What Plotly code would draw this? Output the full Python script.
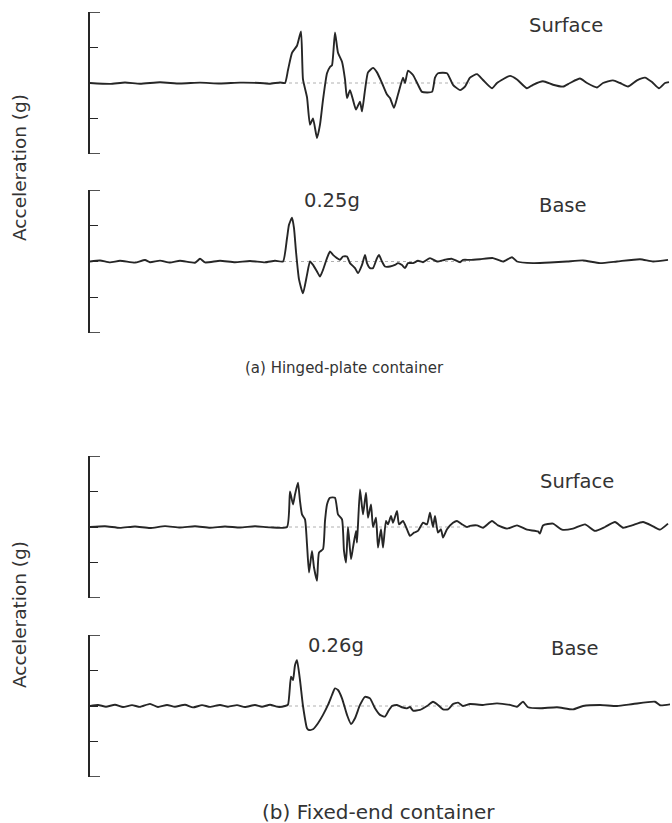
import plotly.graph_objects as go

# ---------------- data (time in s, acceleration in g) ----------------
t_hinged_surface = [0, 0.2, 0.35, 0.5, 0.7, 0.9, 1.1, 1.3, 1.5, 1.7, 1.8, 1.9, 1.95,
    1.98, 2.02, 2.07, 2.11, 2.13, 2.17, 2.20, 2.23, 2.27, 2.30, 2.33, 2.37, 2.40, 2.42,
    2.45, 2.48, 2.52, 2.55, 2.57, 2.60, 2.63, 2.66, 2.70, 2.72, 2.75, 2.78, 2.83, 2.87,
    2.92, 2.97, 3.00, 3.04, 3.08, 3.13, 3.15, 3.18, 3.23, 3.28, 3.32, 3.42, 3.45, 3.48,
    3.57, 3.63, 3.70, 3.75, 3.80, 3.87, 3.93, 4.02, 4.07, 4.20, 4.27, 4.37, 4.43, 4.53,
    4.63, 4.73, 4.80, 4.90, 4.97, 5.07, 5.13, 5.23, 5.30, 5.38, 5.47, 5.55, 5.62, 5.69,
    5.75, 5.79]
a_hinged_surface = [0, -0.005, 0.003, -0.004, 0.004, -0.003, 0.002, -0.003, 0.002, 0.0, -0.004, 0.003, 0.0,
    0.073, 0.17, 0.21, 0.29, 0.02, -0.08, -0.235, -0.20, -0.31, -0.235, -0.095, 0.055, 0.09, 0.10,
    0.285, 0.17, 0.12, 0.02, -0.085, -0.04, -0.095, -0.15, -0.105, -0.16, -0.04, 0.06, 0.085, 0.06,
    0.0, -0.065, -0.085, -0.14, -0.065, 0.03, 0.0, 0.07, 0.045, -0.01, -0.05, -0.05, 0.03, 0.055,
    0.055, -0.01, -0.04, -0.02, 0.03, 0.05, 0.017, -0.03, 0.0, 0.04, 0.02, -0.03, -0.01, 0.01,
    -0.01, -0.02, 0.0, 0.025, 0.0, -0.025, 0.0, 0.015, 0.0, -0.02, 0.015, 0.03, 0.005, -0.03,
    0.0, 0.005]

t_hinged_base = [0, 0.1, 0.2, 0.3, 0.45, 0.55, 0.6, 0.7, 0.8, 0.9, 1.05, 1.1, 1.15, 1.3, 1.45,
    1.6, 1.75, 1.85, 1.93, 1.97, 1.99, 2.02, 2.04, 2.06, 2.09, 2.13, 2.17, 2.20, 2.23, 2.27,
    2.30, 2.33, 2.37, 2.40, 2.43, 2.47, 2.50, 2.53, 2.57, 2.60, 2.65, 2.68, 2.72, 2.75, 2.77,
    2.80, 2.83, 2.87, 2.89, 2.92, 2.95, 3.00, 3.05, 3.08, 3.12, 3.15, 3.18, 3.23, 3.28, 3.33,
    3.40, 3.47, 3.55, 3.62, 3.70, 3.73, 3.80, 3.90, 4.03, 4.13, 4.22, 4.27, 4.43, 4.60, 4.77,
    4.93, 5.10, 5.27, 5.50, 5.63, 5.78]
a_hinged_base = [0, 0.006, -0.005, 0.004, -0.006, 0.008, -0.004, 0.005, -0.006, 0.004, -0.007, 0.015, -0.005, 0.004, -0.004,
    0.003, -0.005, 0.004, 0.0, 0.13, 0.205, 0.245, 0.187, 0.056, -0.10, -0.178, -0.075, 0.0, -0.019, -0.056,
    -0.084, -0.047, 0.019, 0.056, 0.037, 0.019, 0.01, 0.028, 0.028, -0.009, -0.037, -0.065, -0.019, 0.037, -0.009,
    -0.037, -0.037, 0.019, 0.037, 0.0, -0.028, -0.028, -0.019, -0.009, -0.02, -0.037, -0.009, -0.009, 0.004, -0.004,
    0.019, 0.0, 0.01, 0.015, -0.004, 0.009, 0.009, 0.013, 0.019, 0.0, 0.024, 0.0, -0.009, -0.006, 0.0,
    0.006, -0.009, 0.0, 0.013, 0.0, 0.009]

t_fixed_surface = [0, 0.15, 0.3, 0.45, 0.6, 0.75, 0.9, 1.05, 1.2, 1.35, 1.5, 1.65, 1.8, 1.97,
    2.00, 2.03, 2.05, 2.08, 2.10, 2.12, 2.15, 2.17, 2.19, 2.22, 2.24, 2.27, 2.29, 2.33, 2.35,
    2.37, 2.40, 2.45, 2.48, 2.52, 2.54, 2.56, 2.58, 2.61, 2.63, 2.66, 2.67, 2.70, 2.73, 2.76,
    2.78, 2.81, 2.83, 2.86, 2.88, 2.91, 2.93, 2.96, 2.98, 3.01, 3.03, 3.07, 3.09, 3.13, 3.17,
    3.20, 3.24, 3.28, 3.33, 3.37, 3.40, 3.43, 3.45, 3.48, 3.51, 3.53, 3.57, 3.63, 3.67, 3.72,
    3.77, 3.80, 3.87, 3.93, 4.02, 4.08, 4.17, 4.27, 4.37, 4.48, 4.50, 4.53, 4.63, 4.72, 4.83,
    4.95, 5.05, 5.15, 5.25, 5.33, 5.42, 5.53, 5.63, 5.70, 5.78]
a_fixed_surface = [0, 0.004, -0.005, 0.003, -0.006, 0.005, -0.003, 0.004, -0.004, 0.003, -0.003, 0.004, -0.002, 0.0,
    0.20, 0.127, 0.183, 0.249, 0.146, 0.071, 0.043, -0.097, -0.256, -0.135, -0.228, -0.303, -0.144, -0.125, 0.034,
    0.127, 0.165, 0.165, 0.071, 0.043, -0.135, -0.200, 0.0, -0.181, -0.116, -0.022, -0.088, 0.211, 0.071, 0.193,
    0.052, 0.127, 0.0, 0.052, -0.116, -0.013, -0.116, 0.034, 0.015, 0.062, 0.024, 0.09, 0.015, 0.034, -0.013,
    -0.05, -0.032, -0.022, 0.024, 0.015, 0.080, 0.0, 0.062, -0.032, -0.013, -0.06, -0.013, 0.024, 0.034, 0.015,
    0.0, 0.006, 0.009, -0.004, 0.034, 0.009, -0.009, 0.009, -0.015, -0.025, -0.037, 0.009, 0.019, -0.015, -0.009,
    0.015, -0.022, 0.0, 0.028, -0.004, 0.009, 0.028, 0.004, -0.015, 0.019]

t_fixed_base = [0, 0.08, 0.16, 0.25, 0.33, 0.42, 0.5, 0.6, 0.68, 0.77, 0.85, 0.95, 1.03, 1.12,
    1.2, 1.3, 1.38, 1.47, 1.55, 1.65, 1.72, 1.8, 1.88, 1.95, 1.98, 2.01, 2.03, 2.05, 2.07, 2.10,
    2.13, 2.17, 2.19, 2.23, 2.28, 2.33, 2.38, 2.42, 2.45, 2.48, 2.52, 2.57, 2.61, 2.65, 2.70,
    2.75, 2.80, 2.85, 2.90, 2.95, 2.98, 3.02, 3.07, 3.12, 3.17, 3.20, 3.23, 3.30, 3.37, 3.43,
    3.48, 3.53, 3.58, 3.63, 3.68, 3.73, 3.80, 3.93, 4.07, 4.20, 4.27, 4.33, 4.38, 4.50, 4.67,
    4.83, 4.93, 5.10, 5.27, 5.43, 5.65, 5.70, 5.82]
a_fixed_base = [0, 0.006, -0.004, 0.007, -0.006, 0.005, -0.005, 0.012, -0.006, 0.006, -0.004, 0.007, -0.008, 0.005,
    -0.005, 0.006, -0.004, 0.005, -0.006, 0.006, -0.004, 0.007, -0.005, 0.0, 0.008, 0.165, 0.146, 0.23, 0.258, 0.146,
    0.0, -0.125, -0.135, -0.131, -0.097, -0.05, 0.006, 0.062, 0.099, 0.09, 0.043, -0.05, -0.101, -0.069, 0.006,
    0.052, 0.043, -0.013, -0.05, -0.06, -0.032, 0.0, 0.006, -0.007, -0.013, -0.005, -0.026, -0.022, 0.0, 0.024,
    0.006, -0.019, -0.019, 0.011, 0.019, 0.0, 0.011, 0.006, 0.015, 0.006, -0.004, 0.024, -0.007, -0.013, -0.007,
    -0.019, 0.0, 0.006, 0.0, 0.011, 0.024, 0.004, 0.011]

y_ticks = [-0.4, -0.2, 0.0, 0.2, 0.4]
y_limits = [-0.4, 0.4]
peak_labels = ["0.25g", "0.26g"]
panel_labels = ["Surface", "Base", "Surface", "Base"]
captions = ["(a) Hinged-plate container", "(b) Fixed-end container"]
y_title = "Acceleration (g)"

# ---------------- layout helpers ----------------
W, H = 672, 823
px = lambda x: x / W
py = lambda y: 1 - y / H

series = [(t_hinged_surface, a_hinged_surface), (t_hinged_base, a_hinged_base),
          (t_fixed_surface, a_fixed_surface), (t_fixed_base, a_fixed_base)]
# pixel top/bottom of each panel's vertical axis
panel_px = [(12, 154), (190, 333), (456, 598), (635, 777)]

ink = "#262626"
fig = go.Figure()
layout = dict(width=W, height=H, autosize=False, margin=dict(l=0, r=0, t=0, b=0),
              paper_bgcolor="white", plot_bgcolor="rgba(0,0,0,0)", showlegend=False)
shapes = []
for i, ((t, a), (top, bot)) in enumerate(zip(series, panel_px), start=1):
    xa = "x" if i == 1 else f"x{i}"
    ya = "y" if i == 1 else f"y{i}"
    fig.add_trace(go.Scatter(x=t, y=a, mode="lines", xaxis=xa, yaxis=ya,
                             line=dict(color=ink, width=1.9, shape="spline", smoothing=0.5),
                             hoverinfo="skip"))
    layout["xaxis" if i == 1 else f"xaxis{i}"] = dict(
        domain=[px(90), px(670)], range=[0, 5.8], visible=False, anchor=ya)
    layout["yaxis" if i == 1 else f"yaxis{i}"] = dict(
        domain=[py(bot), py(top)], range=y_limits, anchor=xa,
        showline=True, linecolor=ink, linewidth=1.6, ticks="inside", ticklen=8,
        tickwidth=1.4, tickcolor=ink, tickvals=y_ticks, showticklabels=False,
        showgrid=False, zeroline=False)
    # bracket ends at the top and bottom of the vertical scale
    for yv in y_limits:
        shapes.append(dict(type="line", xref=xa, yref=ya, xsizemode="pixel", xanchor=0,
                           x0=-0.8, x1=10, y0=yv, y1=yv, line=dict(color=ink, width=1.6)))
    shapes.append(dict(type="line", xref=xa, yref=ya, x0=1.75, x1=3.8, y0=0, y1=0,
                       line=dict(color="#b0b0b0", width=1, dash="dot"), layer="below"))

font = dict(family="DejaVu Sans, Arial, sans-serif", color="#333333")
ann = []
def add_text(txt, x, y, size, angle=0):
    ann.append(dict(text=txt, x=px(x), y=py(y), xref="paper", yref="paper",
                    xanchor="center", yanchor="middle", showarrow=False,
                    textangle=angle, font=dict(size=size, **font)))

label_pos = [(566, 26), (562, 205), (577, 481), (574, 648)]
for txt, (x, y) in zip(panel_labels, label_pos):
    add_text(txt, x, y, 19.5)
for txt, (x, y) in zip(peak_labels, [(332, 200), (336, 645)]):
    add_text(txt, x, y, 19.5)
for txt, (x, y), s in zip(captions, [(345, 368), (378, 812)], [15, 20]):
    add_text(txt, x, y, s)
for y in [168, 615]:
    add_text(y_title, 19, y, 18.5, -90)

layout["annotations"] = ann
layout["shapes"] = shapes
fig.update_layout(**layout)
fig.write_html("out.html")
